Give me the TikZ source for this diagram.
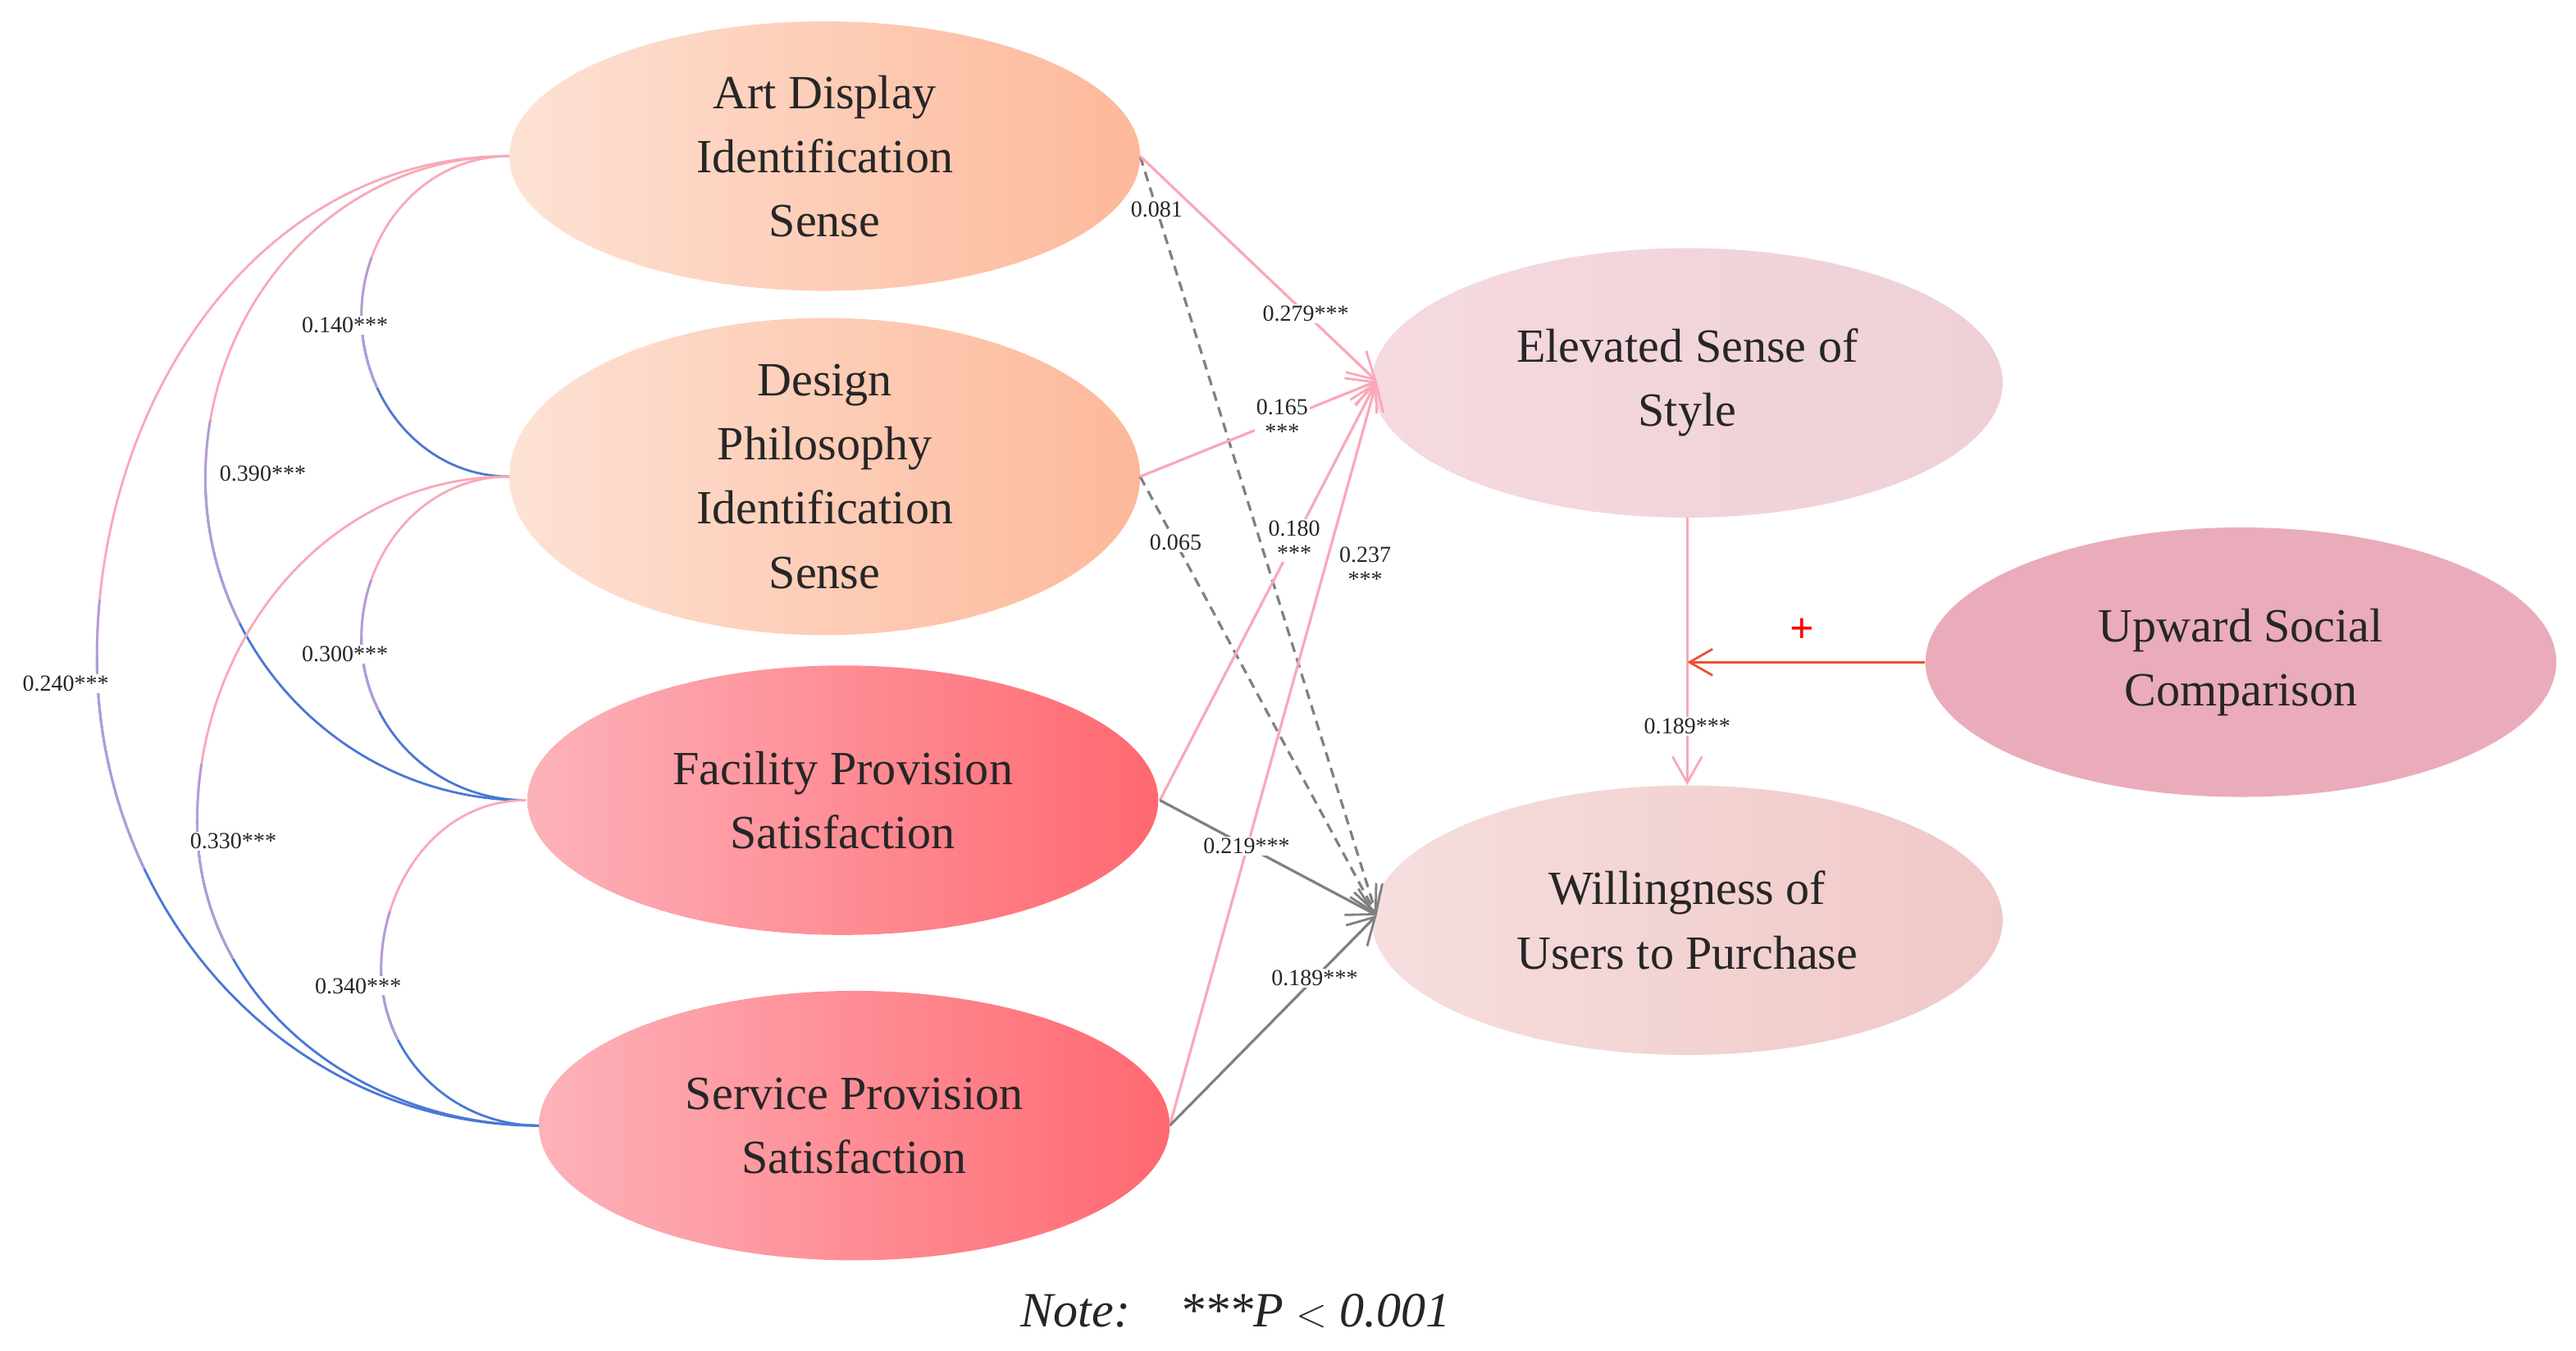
\documentclass[tikz,border=0pt]{standalone}
\usepackage{fontspec}
\setmainfont{Liberation Serif}
\usetikzlibrary{shapes.geometric,arrows.meta}
\definecolor{pk}{HTML}{F9A8B8}
\definecolor{bl}{HTML}{4A78D4}
\definecolor{lav}{HTML}{B09CD8}
\definecolor{gy}{HTML}{808080}
\definecolor{rd}{HTML}{EE5030}
\begin{document}
\begin{tikzpicture}[x=1pt,y=-1pt,
  ell/.style={ellipse,minimum width=384pt,minimum height=164pt,align=center,inner sep=0pt,
     font=\fontsize{29}{39}\selectfont,text=black!85},
  lab/.style={font=\fontsize{14}{15}\selectfont,fill=white,inner sep=1pt,align=center,text=black!85},
  cov/.style={line width=1.4pt},
  tip/.style={-{Straight Barb[length=16pt,width=18pt,line width=1.4pt]}},
  pth/.style={line width=1.6pt,pk,tip},
  gp/.style={line width=1.6pt,gy,tip},
  dp/.style={line width=1.6pt,gy,dash pattern=on 6pt off 4pt,tip}]
\useasboundingbox (0,0) rectangle (1568,822);
\node[ell,left color={rgb,255:red,253;green,226;blue,212},right color={rgb,255:red,253;green,184;blue,154}] (A) at (502,95) {Art Display\\Identification\\Sense};
\node[ell,left color={rgb,255:red,253;green,226;blue,212},right color={rgb,255:red,253;green,184;blue,154},minimum height=166pt] (D) at (502,290) {Design\\Philosophy\\Identification\\Sense};
\node[ell,left color={rgb,255:red,253;green,178;blue,186},right color={rgb,255:red,255;green,104;blue,112}] (F) at (513,487) {Facility Provision\\Satisfaction};
\node[ell,left color={rgb,255:red,253;green,178;blue,186},right color={rgb,255:red,255;green,104;blue,112}] (S) at (520,685) {Service Provision\\Satisfaction};
\node[ell,left color={rgb,255:red,245;green,218;blue,224},right color={rgb,255:red,238;green,208;blue,214}] (E) at (1027,233) {Elevated Sense of\\Style};
\node[ell,left color={rgb,255:red,246;green,222;blue,222},right color={rgb,255:red,240;green,200;blue,200}] (W) at (1027,560) {Willingness of\\Users to Purchase};
\node[ell,fill={rgb,255:red,234;green,172;blue,186}] (U) at (1364,403) {Upward Social\\Comparison};
% covariance arcs
\coordinate (Al) at (310,95); \coordinate (Dl) at (310,290);
\coordinate (Fl) at (320,487); \coordinate (Sl) at (328,685);
\foreach \p/\q/\mx/\my/\qy/\t/\lx/\ly in {Al/Dl/220/192/290/0.140/210/198, Al/Fl/125/291/487/0.390/160/288, Al/Sl/59/400/685/0.240/40/416, Dl/Fl/220/388/487/0.300/210/398, Dl/Sl/120/500/685/0.330/142/512, Fl/Sl/232/590/685/0.340/218/600}{
  \coordinate (m) at (\mx,\my);
  \draw[cov,pk] (\p) to[out=180,in=90] (m);
  \begin{scope}
    \clip (0,\my-35) rectangle (\mx+20,\my);
    \draw[cov,lav] (\p) to[out=180,in=90] (m);
  \end{scope}
  \draw[cov,bl] (m) to[out=-90,in=180] (\q);
  \begin{scope}
    \clip (0,\my) rectangle (\mx+60,{\my+0.45*(\qy-\my)});
    \draw[cov,lav] (m) to[out=-90,in=180] (\q);
  \end{scope}
  \node[lab] (l\t) at (\lx,\ly) {\t***};
}
% paths
\coordinate (Ein) at (838,232);
\coordinate (Win) at (838,557);
\coordinate (Ar) at (694,95); \coordinate (Dr) at (694,290);
\coordinate (Fr) at (706,487); \coordinate (Sr) at (712,685);
\draw[dp] (Ar) -- (Win) node[lab,pos=0.07,fill=white] (a1) {0.081};
\draw[dp] (Dr) -- (Win) node[lab,pos=0.15] (a2) {0.065};
\draw[pth] (Ar) -- (Ein) node[lab,pos=0.70] (a3) {0.279***};
\draw[pth] (Dr) -- (Ein) node[lab,pos=0.60] (a4) {0.165\\***};
\draw[pth] (Fr) -- (Ein) node[lab,pos=0.62] (a5) {0.180\\***};
\draw[pth] (Sr) -- (Ein);
\node[lab,fill=none] (a6) at (831,345) {0.237\\***};
\draw[gp] (Fr) -- (Win) node[lab,pos=0.40] (a7) {0.219***};
\draw[gp] (Sr) -- (Win) node[lab,pos=0.70] (a8) {0.189***};
\draw[pth,line width=1.4pt] (E.south) -- (W.north) node[lab,pos=0.78] (a9) {0.189***};
\coordinate (mid) at (1027,403);
\draw[line width=1.6pt,rd,-{Straight Barb[length=14pt,width=16pt,line width=1.4pt]}] (U.west) -- (mid);
\node[text=red,font=\fontsize{26}{26}\selectfont\bfseries] (plus) at (1097,384) {+};
\node[font=\fontsize{30}{32}\selectfont\itshape,text=black!85] (note) at (752,798) {Note:\quad ***P $<$ 0.001};
\end{tikzpicture}
\end{document}
